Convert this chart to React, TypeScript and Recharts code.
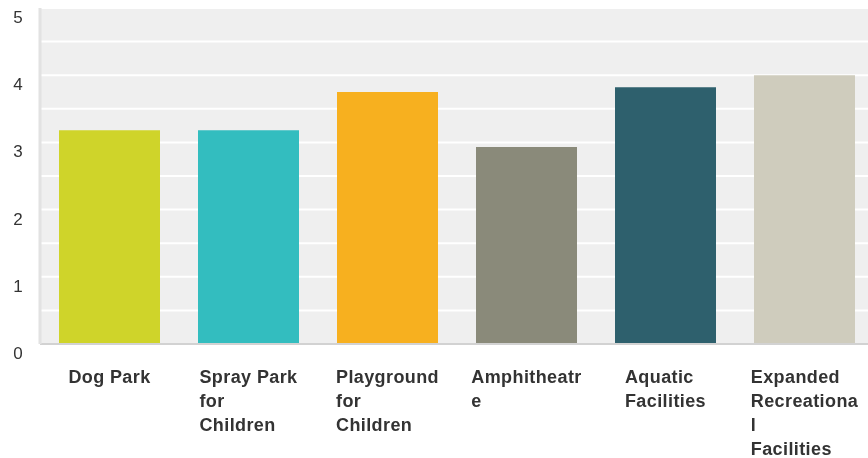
import { BarChart, Bar, XAxis, YAxis, CartesianGrid, Cell } from "recharts";

const categories = [
  "Dog Park",
  "Spray Park for Children",
  "Playground for Children",
  "Amphitheatre",
  "Aquatic Facilities",
  "Expanded Recreational Facilities",
];
const ratings = [3.18, 3.18, 3.75, 2.93, 3.82, 4.0];
const colors = ["#cfd42a", "#33bdbf", "#f7b01f", "#8a8a7a", "#2e606d", "#cfccbd"];
// wrapped x tick labels as they appear in the picture
const tickLines = [
  ["Dog Park"],
  ["Spray Park", "for", "Children"],
  ["Playground", "for", "Children"],
  ["Amphitheatr", "e"],
  ["Aquatic", "Facilities"],
  ["Expanded", "Recreationa", "l", "Facilities"],
];
const yTicks = [0, 0.5, 1, 1.5, 2, 2.5, 3, 3.5, 4, 4.5, 5];

const data = categories.map((name, i) => ({ name, value: ratings[i] }));

const FONT = "'Liberation Sans', Arial, sans-serif";
let ctx: CanvasRenderingContext2D | null = null;
const measure = (s: string) => {
  if (!ctx) ctx = document.createElement("canvas").getContext("2d");
  if (!ctx) return s.length * 10;
  ctx.font = `bold 18px ${FONT}`;
  return ctx.measureText(s).width + s.length * 0.4;
};

const XTick = (props: any) => {
  const { x, y, index } = props;
  const lines = tickLines[index] || [];
  const w = Math.max(...lines.map(measure));
  return (
    <text
      x={x - w / 2}
      y={y + 31}
      textAnchor="start"
      fill="#333"
      fontFamily={FONT}
      fontWeight="bold"
      fontSize={18}
      letterSpacing={0.4}
    >
      {lines.map((l, i) => (
        <tspan key={i} x={x - w / 2} dy={i === 0 ? 0 : 24}>
          {l}
        </tspan>
      ))}
    </text>
  );
};

const YTick = (props: any) => {
  const { y, payload } = props;
  if (!Number.isInteger(payload.value)) return null;
  return (
    <text x={10} y={y + 15} textAnchor="middle" fill="#333" fontFamily={FONT} fontSize={17}>
      {payload.value}
    </text>
  );
};

const App = () => {
  return (
    <div style={{ position: "fixed", left: 8, top: 8, width: 866, height: 450 }}>
      <style>{`html{overflow:hidden}`}</style>
      <BarChart
        width={866}
        height={450}
        data={data}
        margin={{ top: 0, right: 0, bottom: 0, left: 0 }}
      >
        <CartesianGrid vertical={false} fill="#efefef" stroke="#ffffff" strokeWidth={2} />
        <XAxis
          dataKey="name"
          height={114}
          interval={0}
          tickLine={false}
          axisLine={{ stroke: "#d2d2d2", strokeWidth: 2 }}
          tick={<XTick />}
        />
        <YAxis
          width={32}
          domain={[0, 5]}
          ticks={yTicks}
          interval={0}
          tickLine={false}
          axisLine={{ stroke: "#e2e2e2", strokeWidth: 3 }}
          tick={<YTick />}
        />
        <Bar dataKey="value" barSize={101} isAnimationActive={false}>
          {data.map((d, i) => (
            <Cell key={d.name} fill={colors[i]} />
          ))}
        </Bar>
      </BarChart>
    </div>
  );
};

export default App;
